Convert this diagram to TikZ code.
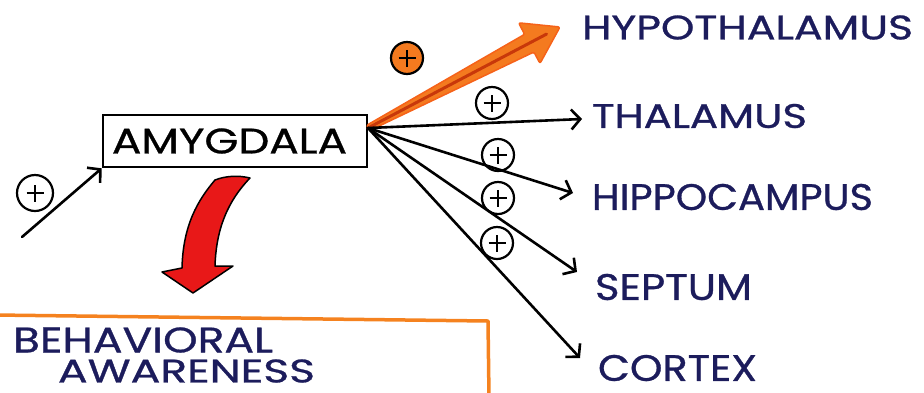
\documentclass[tikz,border=0pt]{standalone}
\usepackage{fontspec}
\setmainfont{Poppins}[FakeBold=0.8]
\usetikzlibrary{arrows.meta,calc}
\definecolor{navy}{HTML}{1C1C5C}
\definecolor{arrorange}{HTML}{F47A1F}
\definecolor{arrdark}{HTML}{C8380A}
\definecolor{boxorange}{HTML}{F5821F}
\definecolor{redarrow}{HTML}{E81818}
\newcommand\mylab[3]{\resizebox{#1}{#2}{#3}}
\begin{document}
\begin{tikzpicture}[x=1pt,y=-1pt,
  lab/.style={inner sep=0pt, text=navy},
  plusc/.style={circle, draw, line width=2.2pt, minimum size=32pt, inner sep=0pt,
    path picture={
      \draw[line width=2.2pt] ([xshift=-8.5pt]path picture bounding box.center) -- ([xshift=8.5pt]path picture bounding box.center);
      \draw[line width=2.2pt] ([yshift=-8.5pt]path picture bounding box.center) -- ([yshift=8.5pt]path picture bounding box.center);}},
  conn/.style={line width=2.6pt, -{Straight Barb[length=9pt,width=20pt]}, line cap=round},
  ]
\useasboundingbox (0,0) rectangle (924,392);

% Amygdala box
\node[draw, line width=2.6pt, minimum width=264pt, minimum height=52pt, inner sep=0pt] (amy) at (235,141)
  {\hspace*{-11pt}\mylab{235pt}{25pt}{AMYGDALA}};

% targets
\node[lab] (hyp) at (747.5,27.5) {\mylab{331pt}{24pt}{HYPOTHALAMUS}};
\node[lab] (tha) at (699.5,116) {\mylab{215pt}{24pt}{THALAMUS}};
\node[lab] (hip) at (732.5,197) {\mylab{281pt}{26pt}{HIPPOCAMPUS}};
\node[lab] (sep) at (673.5,287) {\mylab{157pt}{26pt}{SEPTUM}};
\node[lab] (cor) at (677.5,368) {\mylab{159pt}{26pt}{CORTEX}};
\node[lab] (beh1) at (143,340) {\mylab{260pt}{25pt}{BEHAVIORAL}};
\node[lab] (beh2) at (186.5,371) {\mylab{257pt}{23pt}{AWARENESS}};

% connector ends
\coordinate (src) at (368,128);
\coordinate (tHyp) at (560,27);
\coordinate (tTha) at (582,119);
\coordinate (tHip) at (573,193);
\coordinate (tSep) at (577,272);
\coordinate (tCor) at (580,358);
\coordinate (inL) at (22,237);

% orange thick arrow to hypothalamus
\coordinate (B) at ($(src)!0.84!(tHyp)$);
\fill[arrorange, draw=arrorange!80!red, line width=1.5pt, line join=round, rounded corners=2pt]
  ($(src)!3pt!90:(tHyp)$) -- ($(B)!10pt!90:(tHyp)$) -- ($(B)!23pt!90:(tHyp)$) -- (tHyp)
  -- ($(B)!23pt!-90:(tHyp)$) -- ($(B)!10pt!-90:(tHyp)$) -- ($(src)!3pt!-90:(tHyp)$) -- cycle;
\draw[arrdark, line width=3pt, line cap=round] (src) -- ($(src)!0.93!(tHyp)$);

% black connectors
\draw[conn] (src) -- (tTha);
\draw[conn] (src) -- (tHip);
\draw[conn] (src) -- (tSep);
\draw[conn] (src) -- (tCor);
\draw[conn] (inL) -- (amy.south west);

% plus signs
\node[plusc, fill=arrorange] (p0) at (407,58) {};
\node[plusc] (p1) at (492,103) {};
\node[plusc] (p2) at (498,155) {};
\node[plusc] (p3) at (498,198) {};
\node[plusc] (p4) at (497,243) {};
\node[plusc, minimum size=36pt] (pL) at (35,193) {};

% red curved arrow
\draw[fill=redarrow, draw=black, line width=1.5pt, line join=round]
  (215,180) .. controls (198,200) and (183,225) .. (182,268) -- (162,272) -- (193,293)
  -- (233,266) -- (215,266) .. controls (216,235) and (224,205) .. (250,178)
  .. controls (238,175) and (225,176) .. (215,180) -- cycle;

% behavioral awareness box (partly visible)
\draw[boxorange, line width=3.5pt, line join=round] (-5,315) -- (488,321) -- (489,397);
\end{tikzpicture}
\end{document}
